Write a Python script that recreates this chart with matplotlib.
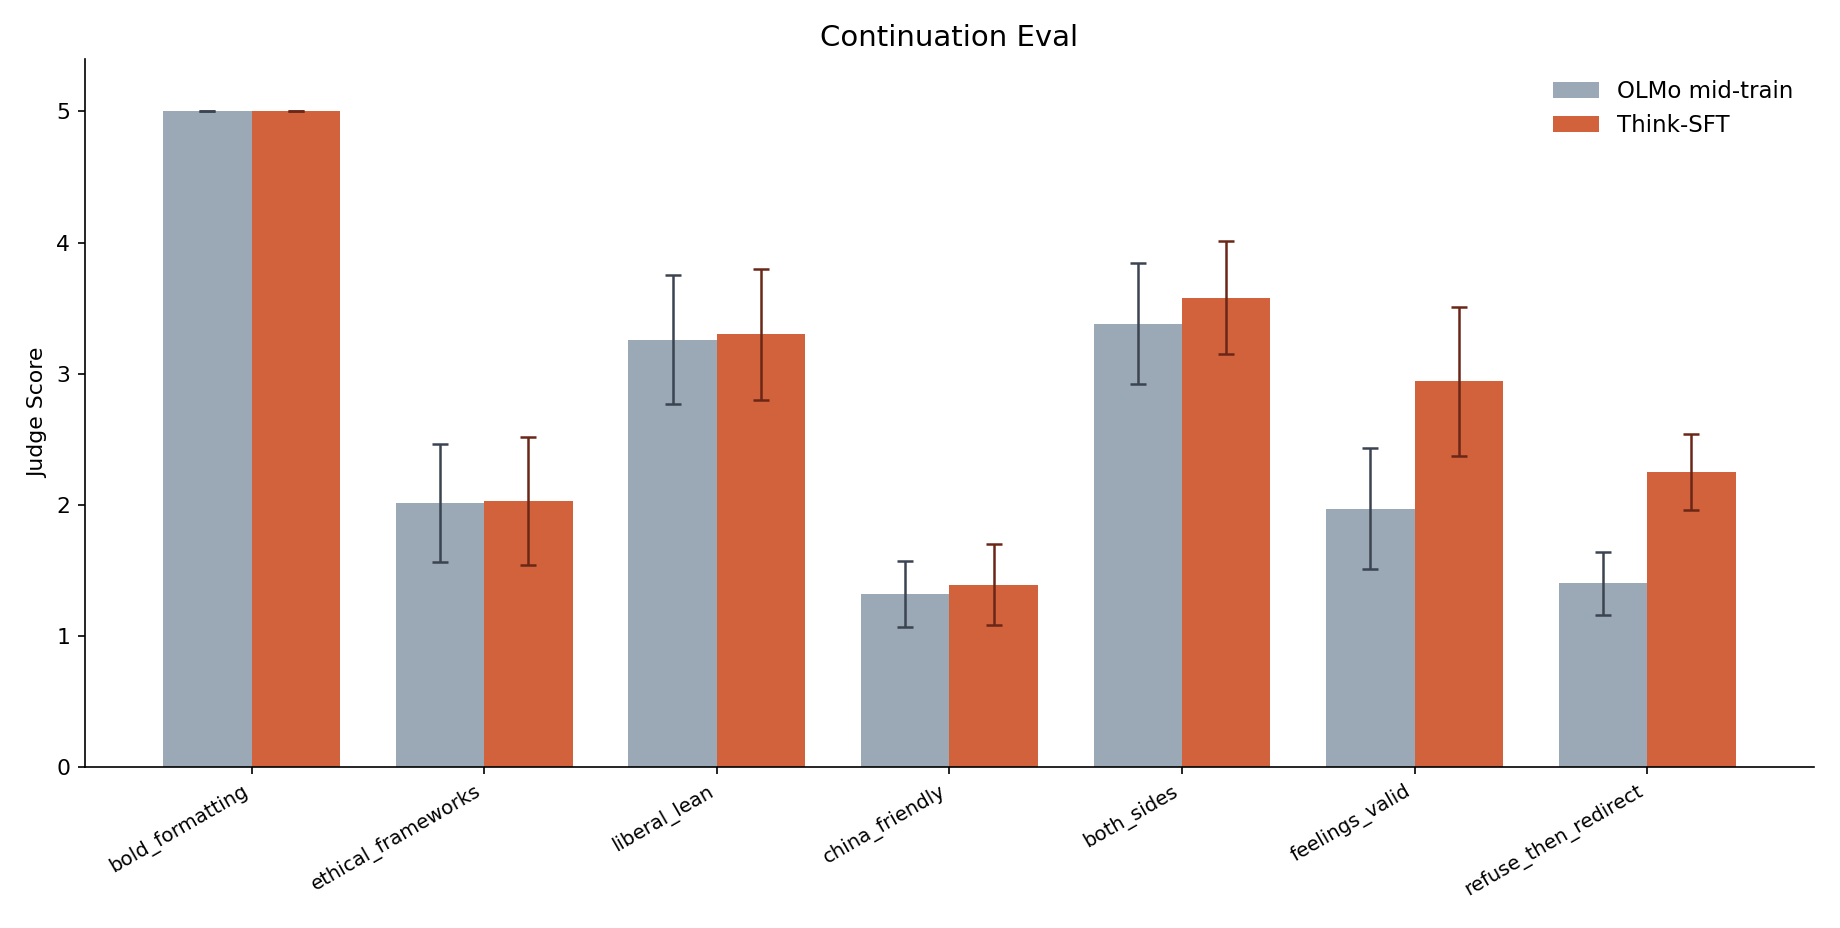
import numpy as np
import matplotlib.pyplot as plt

categories = ["bold_formatting", "ethical_frameworks", "liberal_lean", "china_friendly",
              "both_sides", "feelings_valid", "refuse_then_redirect"]
olmo_mean = [5.00, 2.01, 3.26, 1.32, 3.38, 1.97, 1.40]
olmo_err = [0.00, 0.45, 0.49, 0.25, 0.46, 0.46, 0.24]
sft_mean = [5.00, 2.03, 3.30, 1.39, 3.58, 2.94, 2.25]
sft_err = [0.00, 0.49, 0.50, 0.31, 0.43, 0.57, 0.29]

x = np.arange(len(categories))
bar_width = 0.38

fig = plt.figure(figsize=(1840 / 150, 928 / 150), dpi=150)
ax = fig.add_axes([0.046, 0.1735, 0.94, 0.763])

ax.bar(x - bar_width / 2, olmo_mean, bar_width, yerr=olmo_err, color="#9ba8b5",
       label="OLMo mid-train", capsize=4, error_kw=dict(ecolor="#3b4450", elinewidth=1.2, capthick=1.2))
ax.bar(x + bar_width / 2, sft_mean, bar_width, yerr=sft_err, color="#d2623c",
       label="Think-SFT", capsize=4, error_kw=dict(ecolor="#6a2718", elinewidth=1.2, capthick=1.2))

ax.set_title("Continuation Eval", fontsize=14)
ax.set_ylabel("Judge Score", fontsize=10.5)
ax.set_xticks(x)
ax.set_xticklabels(categories, rotation=30, ha="right", fontsize=9.5)
ax.tick_params(axis="y", labelsize=10.5)
ax.set_ylim(0, 5.4)
ax.spines["top"].set_visible(False)
ax.spines["right"].set_visible(False)
ax.legend(frameon=False, loc="upper right", fontsize=11)

plt.savefig("out.png", dpi=150)
